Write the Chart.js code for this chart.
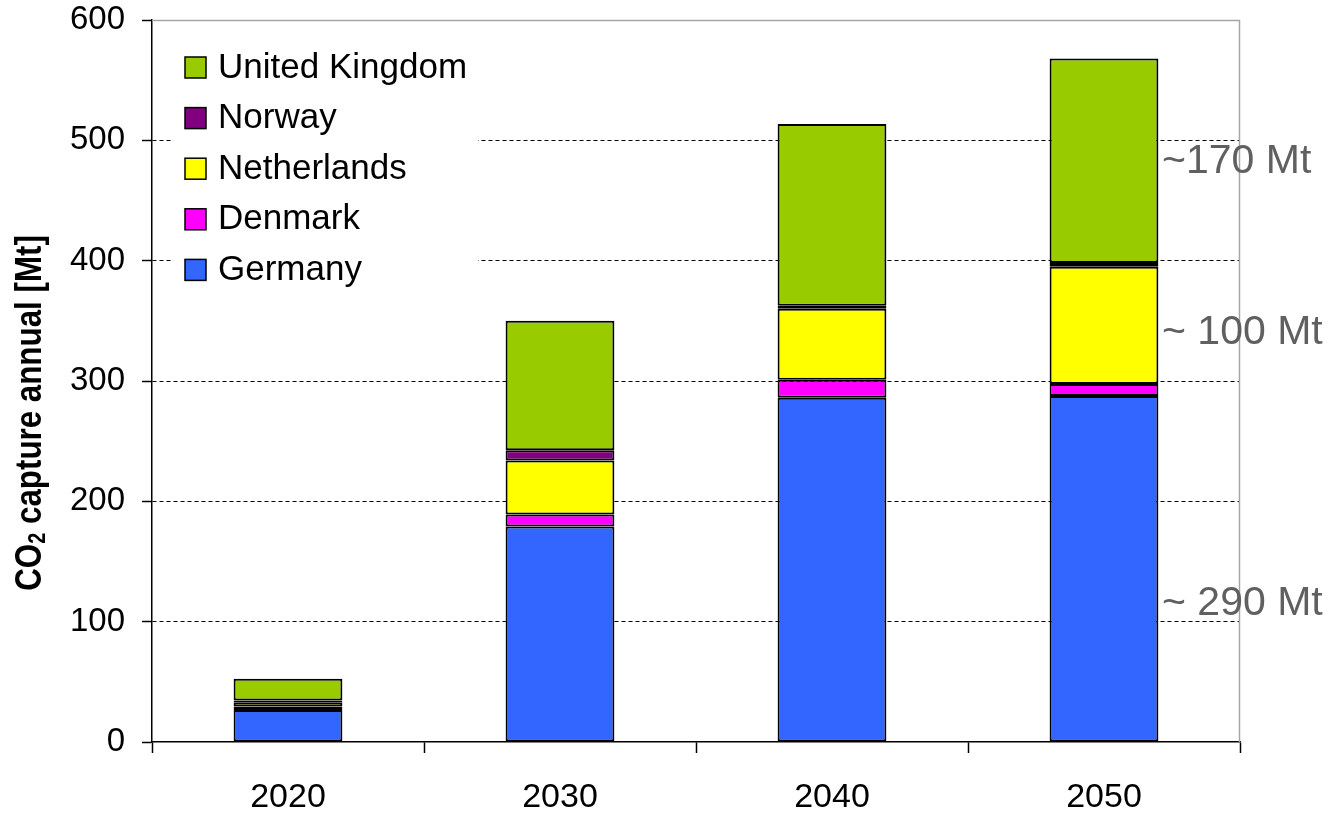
<!DOCTYPE html>
<html>
<head>
<meta charset="utf-8">
<script src="https://cdn.jsdelivr.net/npm/chart.js@4"></script>
<style>
    html, body { margin: 0; padding: 0; background: #ffffff; }
    #wrap { width: 1336px; height: 814px; }
</style>
</head>
<body>
<div id="wrap"><canvas id="chartCO2"></canvas></div>
<script>
// Datos (Mt por ano)
const years = ['2020', '2030', '2040', '2050'];
const germany = [26.5, 179, 286, 287.5];
const denmark = [3, 10, 15, 10];
const netherlands = [3.5, 45, 59, 97.5];
const norway = [1.5, 8.5, 2.5, 3];
const unitedKingdom = [18, 107.5, 151, 170];
const yTicks = [0, 100, 200, 300, 400, 500, 600];
const notes = [
    { text: '~170 Mt', value: 482 },
    { text: '~ 100 Mt', value: 340 },
    { text: '~ 290 Mt', value: 115 },
];

const FONT = "'Liberation Sans', Arial, sans-serif";

// Leyenda, titulo del eje, borde gris y notas
const extrasPlugin = {
    id: 'extras',
    afterDraw(chart) {
        const ctx = chart.ctx;
        const area = chart.chartArea;
        const y = chart.scales.y;

        ctx.save();
        // borde gris del area de trazado (arriba y derecha)
        ctx.strokeStyle = '#a6a6a6';
        ctx.lineWidth = 1.5;
        ctx.beginPath();
        ctx.moveTo(area.left, area.top + 0.5);
        ctx.lineTo(area.right - 0.5, area.top + 0.5);
        ctx.lineTo(area.right - 0.5, area.bottom);
        ctx.stroke();

        // leyenda con fondo blanco
        ctx.fillStyle = '#ffffff';
        ctx.fillRect(172, 38, 306, 256);
        const items = chart.data.datasets.slice().reverse();
        ctx.font = '35px ' + FONT;
        ctx.textBaseline = 'middle';
        items.forEach((ds, i) => {
            const cy = 67 + i * 50.6;
            ctx.fillStyle = ds.backgroundColor;
            ctx.fillRect(185, cy - 10, 21, 21);
            ctx.strokeStyle = '#000000';
            ctx.lineWidth = 1.5;
            ctx.strokeRect(185, cy - 10, 21, 21);
            ctx.fillStyle = '#000000';
            ctx.fillText(ds.label, 218, cy + 1);
        });

        // notas a la derecha
        ctx.fillStyle = '#606060';
        ctx.font = '41px ' + FONT;
        ctx.textAlign = 'left';
        notes.forEach(n => {
            ctx.fillText(n.text, 1162, y.getPixelForValue(n.value));
        });

        // titulo del eje y con subindice (letra estrecha)
        ctx.translate(31, 413);
        ctx.rotate(-Math.PI / 2);
        ctx.scale(0.87, 1);
        ctx.fillStyle = '#000000';
        ctx.textBaseline = 'middle';
        const bold = 'bold 36px ' + FONT;
        const sub = 'bold 23px ' + FONT;
        const parts = [
            { t: 'CO', f: bold, dy: 0 },
            { t: '2', f: sub, dy: 8 },
            { t: ' capture annual [Mt]', f: bold, dy: 0 },
        ];
        let total = 0;
        parts.forEach(p => { ctx.font = p.f; total += ctx.measureText(p.t).width; });
        let x = -total / 2;
        ctx.textAlign = 'left';
        parts.forEach(p => {
            ctx.font = p.f;
            ctx.fillText(p.t, x, p.dy);
            x += ctx.measureText(p.t).width;
        });
        ctx.restore();
    }
};

function makeSet(label, data, color) {
    return {
        label: label,
        data: data,
        backgroundColor: color,
        borderColor: '#000000',
        borderWidth: 2,
        borderSkipped: false,
        categoryPercentage: 1,
        barPercentage: 0.4,
    };
}

new Chart(document.getElementById('chartCO2'), {
    type: 'bar',
    data: {
        labels: years,
        datasets: [
            makeSet('Germany', germany, '#3366ff'),
            makeSet('Denmark', denmark, '#ff00ff'),
            makeSet('Netherlands', netherlands, '#ffff00'),
            makeSet('Norway', norway, '#800080'),
            makeSet('United Kingdom', unitedKingdom, '#99cc00'),
        ],
    },
    options: {
        responsive: true,
        maintainAspectRatio: false,
        animation: false,
        layout: { padding: { top: 20, right: 96, left: 0, bottom: 0 } },
        plugins: {
            legend: { display: false },
            tooltip: { enabled: false },
        },
        scales: {
            x: {
                stacked: true,
                grid: {
                    offset: true,
                    drawOnChartArea: false,
                    tickLength: 11,
                    tickColor: '#000000',
                    tickWidth: 1.5,
                },
                border: { color: '#000000', width: 1.5 },
                ticks: {
                    color: '#000000',
                    font: { family: FONT, size: 34 },
                    padding: 24,
                },
                afterFit(scale) {
                    scale.height = 72;
                    scale.paddingLeft = 0;
                    scale.paddingRight = 0;
                },
            },
            y: {
                stacked: true,
                min: 0,
                max: 600,
                afterBuildTicks(scale) {
                    scale.ticks = yTicks.map(v => ({ value: v }));
                },
                grid: {
                    color: ctx => (ctx.tick && (ctx.tick.value === 0 || ctx.tick.value === 600)) ? 'rgba(0,0,0,0)' : '#000000',
                    lineWidth: 1,
                    tickColor: '#000000',
                    tickLength: 10,
                    tickWidth: 1.5,
                    tickBorderDash: [],
                },
                border: { color: '#000000', width: 1.5, dash: [4, 3] },
                ticks: {
                    color: '#000000',
                    font: { family: FONT, size: 33 },
                    padding: 17,
                },
                afterFit(scale) {
                    scale.width = 152;
                    scale.paddingTop = 0;
                    scale.paddingBottom = 0;
                },
            },
        },
    },
    plugins: [extrasPlugin],
});
</script>
</body>
</html>
